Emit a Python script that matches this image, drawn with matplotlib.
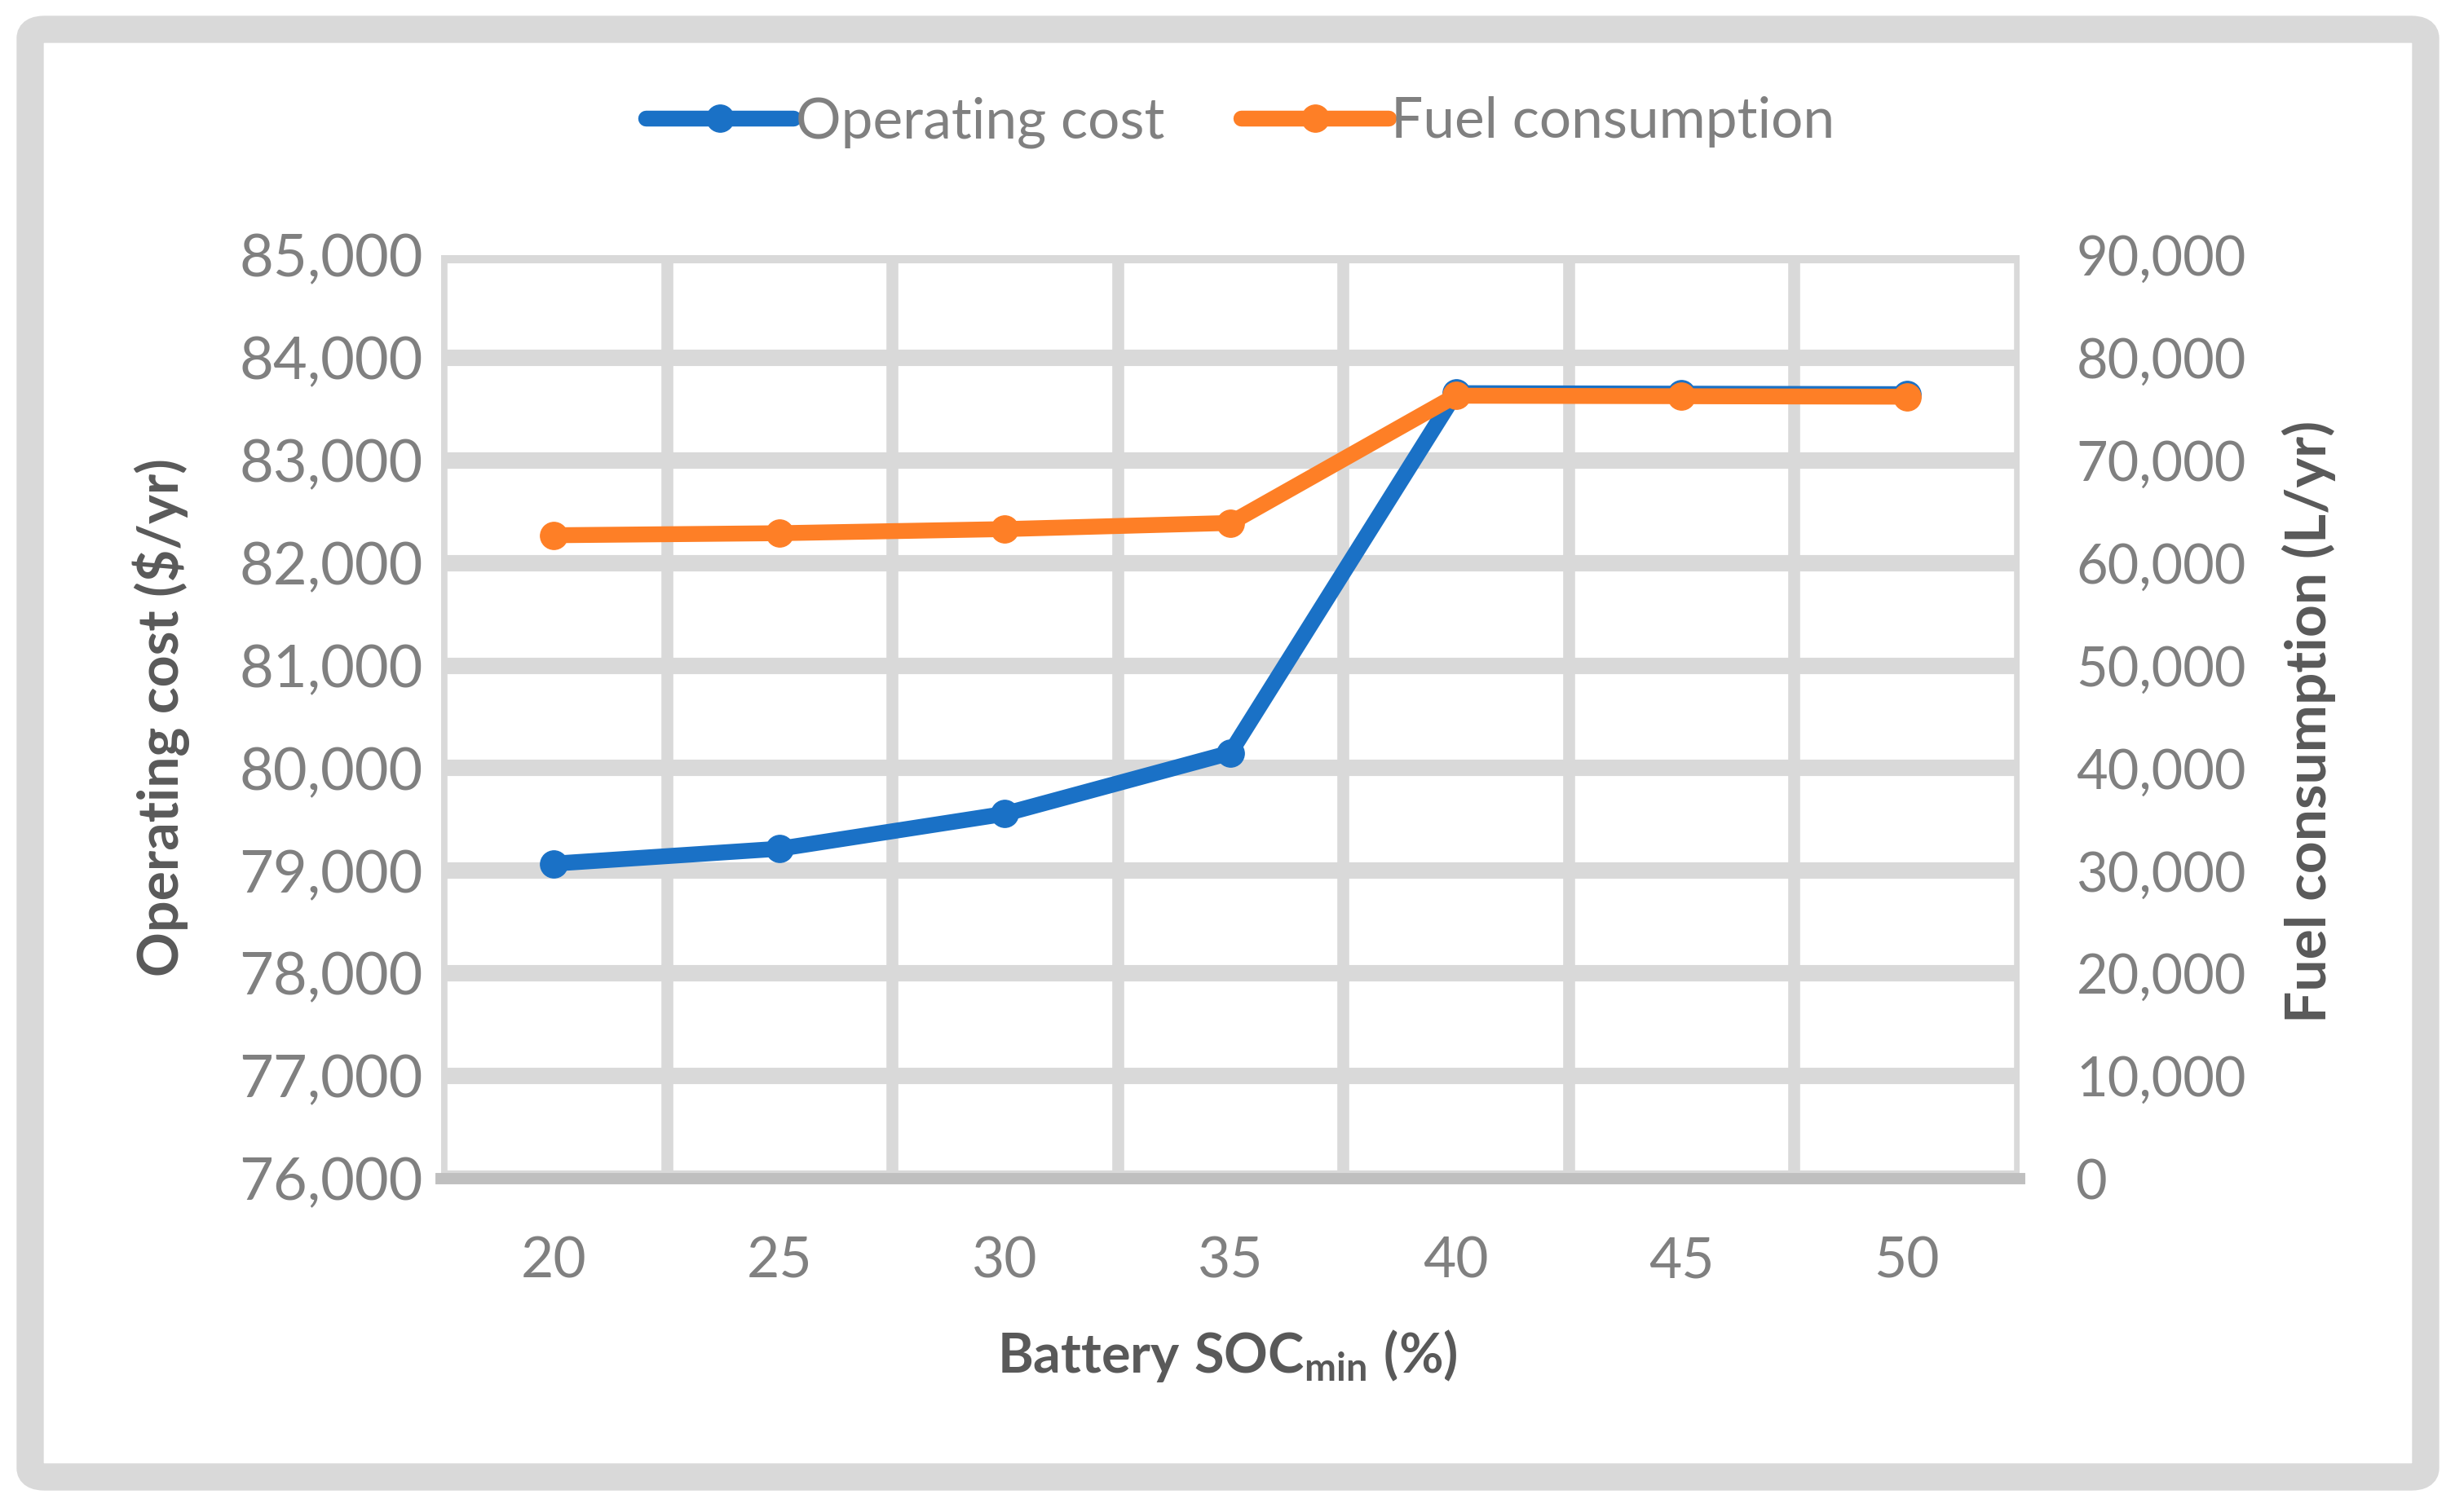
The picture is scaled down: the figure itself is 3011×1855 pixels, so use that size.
import matplotlib
matplotlib.use("Agg")
import matplotlib.pyplot as plt
from matplotlib.patches import FancyBboxPatch

# ---------------- data ----------------
soc_min = ["20", "25", "30", "35", "40", "45", "50"]
operating_cost = [79070, 79215, 79555, 80150, 83655, 83650, 83645]
fuel_consumption = [62700, 62900, 63300, 63900, 76300, 76250, 76200]
left_ticks = [76000, 77000, 78000, 79000, 80000, 81000, 82000, 83000, 84000, 85000]
right_ticks = [0, 10000, 20000, 30000, 40000, 50000, 60000, 70000, 80000, 90000]

FONT = "Lato"
plt.rcParams["font.family"] = [FONT, "DejaVu Sans"]
plt.rcParams["mathtext.fontset"] = "custom"
plt.rcParams["mathtext.rm"] = FONT + ":bold"
plt.rcParams["mathtext.it"] = FONT + ":bold"
plt.rcParams["mathtext.bf"] = FONT + ":bold"

BLUE = "#1A71C6"
ORANGE = "#FE7F26"
GRID = "#D9D9D9"
TICK = "#808080"
TITLE = "#595959"

W, H = 3011, 1855
fig = plt.figure(figsize=(W / 100, H / 100), dpi=100)

# outer rounded frame
fl, fr, ft, fb = 37, 2975, 36, 1812
frame = FancyBboxPatch((fl / W, 1 - fb / H), (fr - fl) / W, (fb - ft) / H,
                       boxstyle="round,pad=0,rounding_size=0.006",
                       transform=fig.transFigure, facecolor="white",
                       edgecolor=GRID, linewidth=24, zorder=-5)
fig.patches.append(frame)

left, right, top, bottom = 541, 2477, 313, 1446
ax = fig.add_axes([left / W, 1 - bottom / H, (right - left) / W, (bottom - top) / H])
ax2 = ax.twinx()
ax.patch.set_alpha(0)

x = list(range(len(soc_min)))

ax.set_xlim(-0.5, len(soc_min) - 0.5)
ax.set_ylim(left_ticks[0], left_ticks[-1])
ax2.set_ylim(right_ticks[0], right_ticks[-1])

ax.set_xticks(x)
ax.set_xticklabels(soc_min)
ax.set_xticks([i - 0.5 for i in range(len(soc_min) + 1)], minor=True)
ax.set_yticks(left_ticks)
ax.set_yticklabels([f"{v:,}" for v in left_ticks])
ax2.set_yticks(right_ticks)
ax2.set_yticklabels([f"{v:,}" for v in right_ticks])

ax.grid(True, axis="y", which="major", color=GRID, linewidth=14.5, zorder=0)
ax.grid(True, axis="x", which="minor", color=GRID, linewidth=10.5, zorder=0)
ax.set_axisbelow(True)

for a in (ax, ax2):
    for s in a.spines.values():
        s.set_visible(False)
ax.spines["bottom"].set_visible(True)
ax.spines["bottom"].set_color("#BFBFBF")
ax.spines["bottom"].set_linewidth(10)

ax.tick_params(axis="both", which="both", length=0)
ax2.tick_params(axis="both", which="both", length=0)
ax.tick_params(axis="x", which="major", labelsize=50, labelcolor=TICK, pad=51)
ax.tick_params(axis="y", which="major", labelsize=52, labelcolor=TICK, pad=16)
ax2.tick_params(axis="y", which="major", labelsize=48, labelcolor=TICK, pad=50)

l1, = ax.plot(x, operating_cost, color=BLUE, linewidth=14, marker="o",
              markersize=24, solid_capstyle="round", zorder=3, label="Operating cost")
l2, = ax2.plot(x, fuel_consumption, color=ORANGE, linewidth=14, marker="o",
               markersize=24, solid_capstyle="round", zorder=3, label="Fuel consumption")

fig.legend(handles=[l1, l2], loc="center", bbox_to_anchor=(0.5053, 1 - 150 / H),
           ncol=2, frameon=False, fontsize=50, labelcolor=TICK,
           handlelength=2.6, handletextpad=0.05, columnspacing=1.35)

fig.text(1505 / W, 1 - 1663 / H, r"$\mathrm{Battery\ SOC_{min}\ (\%)}$",
         ha="center", va="center", fontsize=48, color=TITLE)
fig.text(198 / W, 1 - 880 / H, "Operating cost ($/yr)", rotation=90,
         ha="center", va="center", fontsize=49, color=TITLE, fontweight="bold")
fig.text(2832 / W, 1 - 885 / H, "Fuel consumption (L/yr)", rotation=90,
         ha="center", va="center", fontsize=50, color=TITLE, fontweight="bold")

fig.savefig("out.png", dpi=100, facecolor="white")
